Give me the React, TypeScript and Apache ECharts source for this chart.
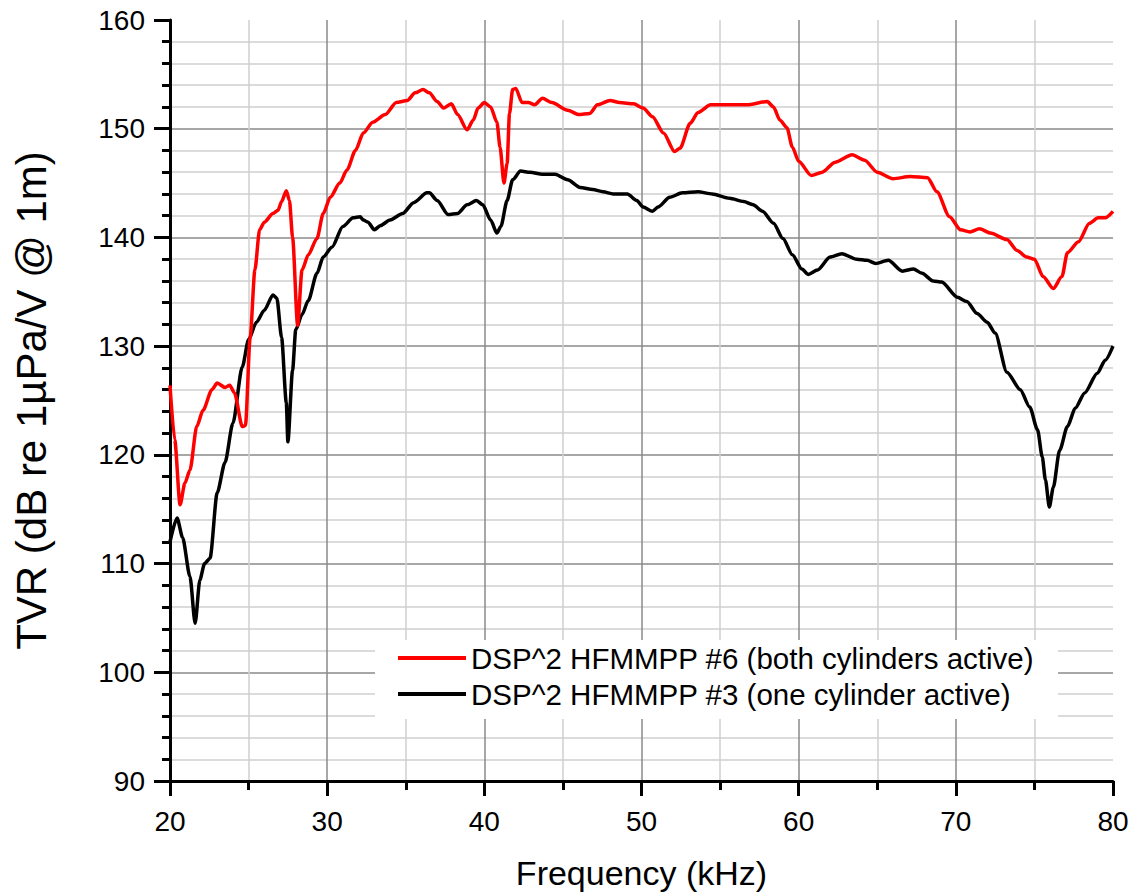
import React, { useEffect, useRef } from "react";
import * as echarts from "echarts";

const redFreq = [20.0, 20.3, 20.64, 20.95, 21.27, 21.7, 22.1, 22.67, 23.0, 23.5, 23.8, 24.1, 24.6, 24.8, 25.1, 25.4, 25.7, 26.0, 26.55, 26.87, 27.1, 27.4, 27.6, 27.8, 28.12, 28.4, 28.8, 29.35, 29.75, 30.2, 30.8, 31.26, 31.8, 32.3, 32.9, 33.7, 34.4, 35.1, 35.6, 36.1, 36.5, 37.0, 37.4, 37.9, 38.3, 38.9, 39.3, 39.6, 40.0, 40.4, 40.8, 41.0, 41.25, 41.45, 41.6, 41.8, 42.0, 42.4, 42.8, 43.2, 43.7, 44.3, 45.3, 46.0, 46.7, 47.2, 48.0, 48.6, 49.5, 50.1, 50.7, 51.4, 52.1, 52.45, 53.1, 53.6, 54.4, 55.2, 56.7, 58.0, 58.4, 58.8, 59.25, 59.6, 60.0, 60.8, 61.5, 62.3, 63.4, 64.2, 65.0, 66.0, 67.1, 68.2, 68.8, 69.6, 70.3, 70.9, 71.5, 72.2, 73.25, 73.9, 74.5, 75.0, 75.55, 76.2, 76.75, 77.1, 77.8, 78.5, 79.05, 79.5, 80.0];
const redTvr = [126.4, 121.4, 115.4, 117.4, 118.6, 122.6, 124.1, 126.0, 126.6, 126.2, 126.4, 125.7, 122.6, 122.7, 130.8, 137.0, 140.7, 141.4, 142.2, 142.5, 143.3, 144.3, 143.4, 140.0, 131.9, 137.0, 138.4, 139.9, 142.2, 143.7, 145.0, 146.2, 148.0, 149.6, 150.6, 151.3, 152.4, 152.6, 153.3, 153.6, 153.3, 152.5, 151.9, 152.3, 151.3, 149.9, 150.8, 151.9, 152.4, 152.0, 150.6, 148.3, 145.0, 146.8, 151.4, 153.6, 153.7, 152.4, 152.4, 152.2, 152.8, 152.4, 151.7, 151.3, 151.4, 152.2, 152.6, 152.4, 152.3, 151.9, 151.1, 149.6, 147.9, 148.2, 150.5, 151.5, 152.2, 152.2, 152.2, 152.5, 152.0, 150.8, 150.1, 148.3, 147.0, 145.7, 146.0, 146.9, 147.6, 147.1, 146.0, 145.4, 145.6, 145.5, 144.2, 141.9, 140.7, 140.5, 140.8, 140.4, 139.8, 138.8, 138.2, 138.0, 136.4, 135.3, 136.4, 138.6, 139.6, 141.3, 141.8, 141.8, 142.4];

const blackFreq = [20.0, 20.45, 20.8, 21.27, 21.6, 21.9, 22.2, 22.55, 23.0, 23.5, 24.0, 24.6, 25.0, 25.5, 26.0, 26.55, 26.8, 27.1, 27.4, 27.5, 27.8, 28.0, 28.4, 28.8, 29.35, 29.75, 30.3, 31.0, 31.65, 32.1, 32.3, 32.6, 33.0, 33.4, 34.0, 34.8, 35.5, 36.35, 36.5, 37.0, 37.7, 38.3, 38.9, 39.5, 39.9, 40.4, 40.8, 41.05, 41.45, 41.8, 42.3, 42.9, 43.7, 44.5, 45.3, 46.1, 46.9, 47.55, 48.2, 49.1, 49.7, 50.1, 50.7, 51.05, 51.8, 52.6, 53.6, 54.5, 55.6, 56.5, 57.1, 57.7, 58.4, 59.0, 59.6, 60.2, 60.6, 61.2, 62.0, 62.75, 63.7, 64.35, 64.9, 65.7, 66.6, 67.3, 67.85, 68.55, 69.1, 70.1, 70.7, 71.35, 72.0, 72.5, 73.25, 74.1, 74.7, 75.2, 75.5, 75.7, 75.95, 76.2, 76.6, 77.1, 77.6, 78.2, 79.0, 79.5, 80.0];
const blackTvr = [112.0, 114.2, 112.4, 108.8, 104.5, 108.5, 110.0, 110.5, 116.5, 119.3, 122.9, 128.1, 130.6, 132.2, 133.3, 134.7, 134.4, 130.8, 124.8, 121.2, 127.8, 131.5, 132.9, 134.2, 136.7, 138.2, 139.1, 141.0, 141.8, 141.9, 141.6, 141.4, 140.7, 141.1, 141.6, 142.2, 143.2, 144.1, 144.1, 143.4, 142.1, 142.2, 143.0, 143.4, 143.0, 141.6, 140.4, 141.0, 143.4, 145.3, 146.1, 146.0, 145.8, 145.8, 145.3, 144.6, 144.4, 144.2, 144.0, 144.0, 143.4, 142.8, 142.4, 142.8, 143.7, 144.1, 144.2, 144.0, 143.6, 143.3, 143.0, 142.4, 141.3, 139.9, 138.4, 137.1, 136.6, 137.0, 138.2, 138.5, 138.0, 137.9, 137.6, 137.9, 136.9, 137.1, 136.7, 136.0, 135.9, 134.5, 134.1, 133.0, 132.2, 131.2, 127.6, 126.0, 124.4, 122.3, 119.8, 117.7, 115.2, 117.0, 120.4, 122.6, 124.3, 125.7, 127.5, 128.7, 130.0];

const seriesNames = [
  "DSP^2 HFMMPP #6 (both cylinders active)",
  "DSP^2 HFMMPP #3 (one cylinder active)",
];
const xTitle = "Frequency (kHz)";
const yTitle = "TVR (dB re 1\u00b5Pa/V @ 1m)";

const FONT = "'Liberation Sans', Arial, sans-serif";

export default function App() {
  const ref = useRef<HTMLDivElement>(null);
  useEffect(() => {
    if (!ref.current) return;
    const chart = echarts.init(ref.current, undefined, { renderer: "svg" });
    const red = redFreq.map((f, i) => [f, redTvr[i]]);
    const black = blackFreq.map((f, i) => [f, blackTvr[i]]);
    chart.setOption({
      animation: false,
      backgroundColor: "#ffffff",
      textStyle: { fontFamily: FONT },
      grid: { left: 170, top: 20, right: 20, bottom: 113, outerBoundsMode: "none", containLabel: false },
      legend: {
        orient: "vertical",
        left: 375,
        top: 640,
        backgroundColor: "#ffffff",
        padding: [3, 24, 10, 23],
        icon: "rect",
        itemWidth: 68,
        itemHeight: 4,
        itemGap: 6,
        textStyle: { fontSize: 29.5, color: "#000", fontFamily: FONT },
        data: seriesNames,
      },
      xAxis: {
        type: "value",
        min: 20,
        max: 80,
        interval: 10,
        name: xTitle,
        nameLocation: "middle",
        nameGap: 75,
        nameTextStyle: { fontSize: 34, color: "#000", fontFamily: FONT },
        axisLine: { lineStyle: { color: "#000", width: 3 } },
        axisTick: { inside: false, length: 15, lineStyle: { color: "#000", width: 3 } },
        minorTick: { show: true, splitNumber: 2, length: 9, lineStyle: { color: "#000", width: 3 } },
        axisLabel: { fontSize: 28, color: "#000", margin: 26, fontFamily: FONT },
        splitLine: { show: true, showMinLine: false, showMaxLine: false, lineStyle: { color: "#8a8a8a", width: 1.5 } },
        minorSplitLine: { show: true, lineStyle: { color: "#cfcfcf", width: 1.5 } },
      },
      yAxis: {
        type: "value",
        min: 90,
        max: 160,
        interval: 10,
        name: yTitle,
        nameLocation: "middle",
        nameGap: 118,
        nameTextStyle: { fontSize: 42, color: "#000", fontFamily: FONT },
        axisLine: { show: true, lineStyle: { color: "#000", width: 3 } },
        axisTick: { show: true, inside: false, length: 16, lineStyle: { color: "#000", width: 3 } },
        minorTick: { show: true, splitNumber: 5, length: 8, lineStyle: { color: "#000", width: 3 } },
        axisLabel: { fontSize: 28, color: "#000", margin: 25, fontFamily: FONT },
        splitLine: { show: true, showMinLine: false, showMaxLine: false, lineStyle: { color: "#8a8a8a", width: 1.5 } },
        minorSplitLine: { show: true, lineStyle: { color: "#cfcfcf", width: 1.5 } },
      },
      series: [
        {
          name: seriesNames[0],
          type: "line",
          data: red,
          showSymbol: false,
          symbol: "none",
          smooth: 0.25,
          smoothMonotone: "x",
          lineStyle: { color: "#ff0000", width: 3.5 },
          itemStyle: { color: "#ff0000" },
          z: 3,
        },
        {
          name: seriesNames[1],
          type: "line",
          data: black,
          showSymbol: false,
          symbol: "none",
          smooth: 0.25,
          smoothMonotone: "x",
          lineStyle: { color: "#000000", width: 3.5 },
          itemStyle: { color: "#000000" },
          z: 2,
        },
      ],
    });
    return () => chart.dispose();
  }, []);
  return (
    <div
      ref={ref}
      style={{ position: "absolute", left: 0, top: 0, width: 1133, height: 894 }}
    />
  );
}
